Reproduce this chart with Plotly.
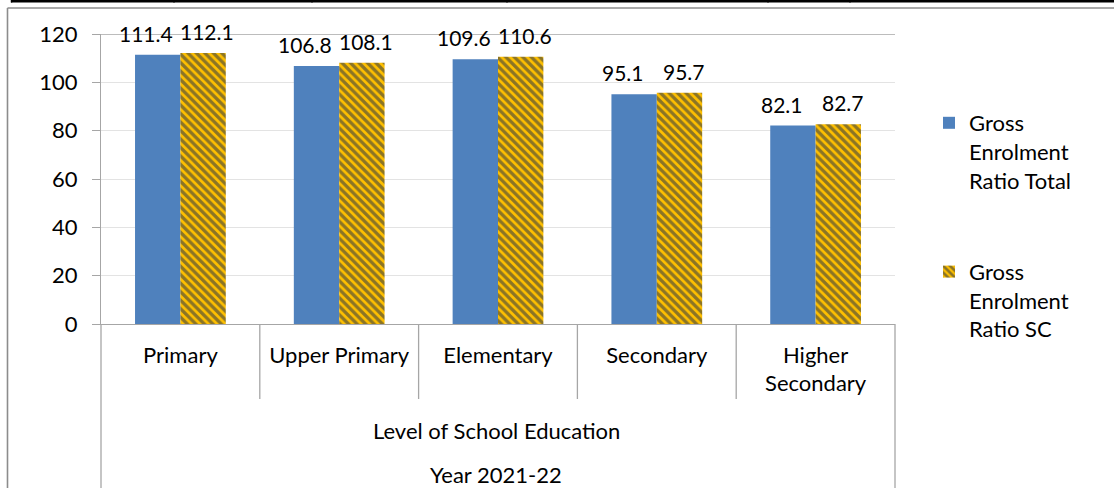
import plotly.graph_objects as go

categories = ["Primary", "Upper Primary", "Elementary", "Secondary", "Higher Secondary"]
tick_labels = ["Primary", "Upper Primary", "Elementary", "Secondary", "Higher<br>Secondary"]
ger_total = [111.4, 106.8, 109.6, 95.1, 82.1]
ger_sc = [112.1, 108.1, 110.6, 95.7, 82.7]
series_names = ["Gross<br>Enrolment<br>Ratio Total", "Gross<br>Enrolment<br>Ratio SC"]
axis_title_1 = "Level of School Education"
axis_title_2 = "Year 2021-22"
y_ticks = [0, 20, 40, 60, 80, 100, 120]

FONT = "Lato"
FS = 22
FS_LBL = 21
TXT = "#000000"
AXIS = "#A6A6A6"
GRID = "#E3E3E3"
BLUE = "#4F81BD"
YELLOW = "#FFC000"
NAVY = "#17284A"

W_FIG, H_FIG = 1114, 488
PL, PR, PT, PB = 101, 895, 34, 324
PW, PH = PR - PL, PB - PT


def xp(px):
    return (px - PL) / PW


def yp(py):
    return (PB - py) / PH


fig = go.Figure()
fig.add_trace(go.Bar(
    x=categories, y=ger_total, name=series_names[0],
    marker=dict(color=BLUE, line=dict(width=0)),
    legendgroup="a",
))
fig.add_trace(go.Bar(
    x=categories, y=ger_sc, name=series_names[1],
    marker=dict(color=YELLOW, line=dict(width=0),
                pattern=dict(shape="\\", fgcolor=NAVY, bgcolor=YELLOW,
                             size=6, solidity=0.55, fillmode="overlay")),
    legendgroup="b",
))

annotations = []
for cat, v in zip(categories, ger_total):
    annotations.append(dict(x=cat, y=v, xref="x", yref="y", text=f"{v:.1f}",
                            showarrow=False, xshift=-34, yshift=7, yanchor="bottom",
                            font=dict(family=FONT, size=FS_LBL, color=TXT)))
for cat, v in zip(categories, ger_sc):
    annotations.append(dict(x=cat, y=v, xref="x", yref="y", text=f"{v:.1f}",
                            showarrow=False, xshift=27, yshift=7, yanchor="bottom",
                            font=dict(family=FONT, size=FS_LBL, color=TXT)))
annotations.append(dict(x=xp(496), y=yp(430), xref="paper", yref="paper", text=axis_title_1,
                        showarrow=False, yanchor="middle",
                        font=dict(family=FONT, size=FS, color=TXT)))
annotations.append(dict(x=xp(496), y=yp(474), xref="paper", yref="paper", text=axis_title_2,
                        showarrow=False, yanchor="middle",
                        font=dict(family=FONT, size=FS, color=TXT)))

shapes = []
# category dividers below the axis
for i in range(1, len(categories)):
    shapes.append(dict(type="line", xref="x", yref="paper", x0=i - 0.5, x1=i - 0.5,
                       y0=0, y1=yp(399), line=dict(color=AXIS, width=1.3)))
# outer dividers down to the bottom
for xx in (0, 1):
    shapes.append(dict(type="line", xref="paper", yref="paper", x0=xx, x1=xx,
                       y0=0, y1=yp(490), line=dict(color=AXIS, width=1.3)))
# chart border (grey)
shapes.append(dict(type="line", xref="paper", yref="paper", x0=xp(7.5), x1=xp(1116),
                   y0=yp(8), y1=yp(8), line=dict(color="#8C8C8C", width=1.6)))
shapes.append(dict(type="line", xref="paper", yref="paper", x0=xp(7.5), x1=xp(7.5),
                   y0=yp(8), y1=yp(490), line=dict(color="#8C8C8C", width=1.6)))
# table border above (black)
shapes.append(dict(type="line", xref="paper", yref="paper", x0=xp(11), x1=xp(1116),
                   y0=yp(1.2), y1=yp(1.2), line=dict(color="#000000", width=2.5)))
for vx in (11.5, 174, 312, 507, 768, 850):
    shapes.append(dict(type="line", xref="paper", yref="paper", x0=xp(vx), x1=xp(vx),
                       y0=yp(-2), y1=yp(2.5), line=dict(color="#000000", width=1.5)))

fig.update_layout(
    width=W_FIG, height=H_FIG,
    margin=dict(l=PL, r=W_FIG - PR, t=PT, b=H_FIG - PB, pad=0),
    paper_bgcolor="white", plot_bgcolor="white",
    barmode="group", bargap=1.5 / 3.5, bargroupgap=0,
    font=dict(family=FONT, size=FS, color=TXT),
    showlegend=True,
    legend=dict(x=xp(929), y=yp(102), xanchor="left", yanchor="top",
                traceorder="grouped", tracegroupgap=60, valign="top",
                font=dict(family=FONT, size=FS, color=TXT),
                bgcolor="rgba(0,0,0,0)"),
    annotations=annotations,
    shapes=shapes,
)
fig.update_xaxes(
    type="category", tickvals=categories, ticktext=tick_labels,
    showline=True, linecolor=AXIS, linewidth=1.3, ticks="", showgrid=False,
    ticklabelstandoff=11, tickfont=dict(family=FONT, size=FS, color=TXT),
    fixedrange=True,
)
fig.update_yaxes(
    range=[0, 120], tickvals=y_ticks, showline=True, linecolor=AXIS, linewidth=1.3,
    ticks="outside", ticklen=8, tickcolor=AXIS, tickwidth=1.3,
    showgrid=True, gridcolor=GRID, gridwidth=1.0, zeroline=False,
    ticklabelstandoff=10, tickfont=dict(family=FONT, size=FS, color=TXT),
    fixedrange=True,
)
# the top grid line at 120 is drawn in the same grey as the axes
fig.add_hline(y=y_ticks[-1], line=dict(color=AXIS, width=1.3))

fig.write_html("out.html", config={"displayModeBar": False},
               post_script="document.body.style.margin='0px';")
